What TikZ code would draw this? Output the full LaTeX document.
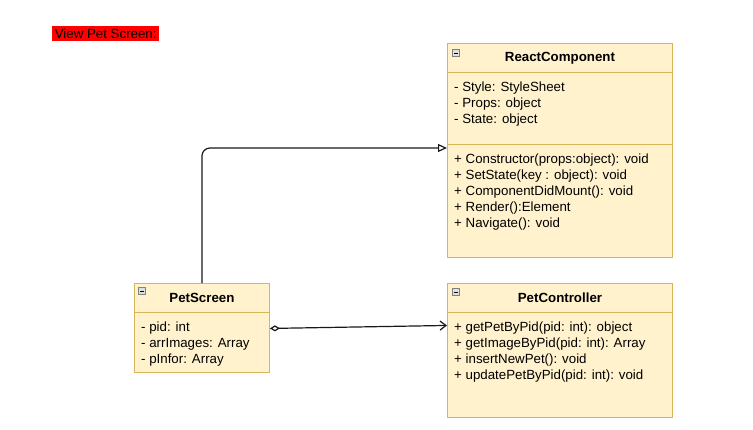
\documentclass[tikz,border=0pt]{standalone}
\usepackage{fontspec}
\setmainfont{Liberation Sans}
\usepackage{tikz}
\usetikzlibrary{arrows.meta, positioning}
\definecolor{classfill}{HTML}{FFF2CC}
\definecolor{classline}{HTML}{D6B656}
\tikzstyle{classpart} = [draw=classline, fill=classfill, line width=0.9pt, minimum width=225pt, inner sep=0pt, anchor=north west, font=\fontsize{13.3}{16}\selectfont\bfseries]
\tikzstyle{members} = [align=left, inner sep=0pt, anchor=north west, font=\fontsize{13.3}{16}\selectfont]
\tikzstyle{iconbox} = [draw=gray, fill=gray!25, line width=0.6pt, minimum size=7pt, inner sep=0pt, path picture={\draw[black, line width=0.8pt] ([xshift=1.5pt]path picture bounding box.west) -- ([xshift=-1.5pt]path picture bounding box.east);}]
\tikzstyle{arrow} = [line width=1.2pt, black!90]

\begin{document}
\begin{tikzpicture}[x=1pt,y=-1pt]
	\useasboundingbox (0,0) rectangle (753,429);

	% Title:
	\node[fill=red, inner sep=0pt, minimum width=107pt, minimum height=15pt, anchor=north west, font=\fontsize{13.3}{15}\selectfont] (title) at (52,26) {View Pet Screen:};

	% ReactComponent:
	% header, attributes and methods are stacked boxes
	\node[classpart, minimum height=29pt] (reacth) at (447,43) {ReactComponent};
	\node[classpart, minimum height=72pt] (reacta) at (447,72) {};
	\node[classpart, minimum height=113pt] (reactm) at (447,144) {};
	\node[iconbox] (reacticon) at (456,53) {};
	\node[members, below right=10pt and 7pt of reacta.north west] (reactattr) {- Style: StyleSheet\\- Props: object\\- State: object};
	\node[members, below right=10pt and 7pt of reactm.north west] (reactmeth) {+ Constructor(props:object): void\\+ SetState(key : object): void\\+ ComponentDidMount(): void\\+ Render():Element\\+ Navigate(): void};

	% PetScreen:
	\node[classpart, minimum width=135pt, minimum height=29pt] (screenh) at (134,283) {PetScreen};
	\node[classpart, minimum width=135pt, minimum height=60pt] (screena) at (134,312) {};
	\node[iconbox] (screenicon) at (142,291) {};
	\node[members, below right=10pt and 7pt of screena.north west] (screenattr) {- pid: int\\- arrImages: Array\\- pInfor: Array};

	% PetController:
	\node[classpart, minimum height=29pt] (ctrlh) at (447,283) {PetController};
	\node[classpart, minimum height=105pt] (ctrlm) at (447,312) {};
	\node[iconbox] (ctrlicon) at (456,292) {};
	\node[members, below right=10pt and 7pt of ctrlm.north west] (ctrlmeth) {+ getPetByPid(pid: int): object\\+ getImageByPid(pid: int): Array\\+ insertNewPet(): void\\+ updatePetByPid(pid: int): void};

	% Connectors:
	% inheritance goes up and then right, with a hollow triangle
	\draw[arrow, rounded corners=8pt, -{Triangle[open, length=9pt, width=8pt]}] (screenh.north) |- ([yshift=-4pt]reactm.north west);
	% aggregation with a hollow diamond
	\draw[arrow, {Diamond[open, length=10pt, width=6pt]}-{Straight Barb[length=6pt, width=9pt]}] ([yshift=14pt]screena.east) -- ([yshift=39.5pt]ctrlm.west);

\end{tikzpicture}
\end{document}
